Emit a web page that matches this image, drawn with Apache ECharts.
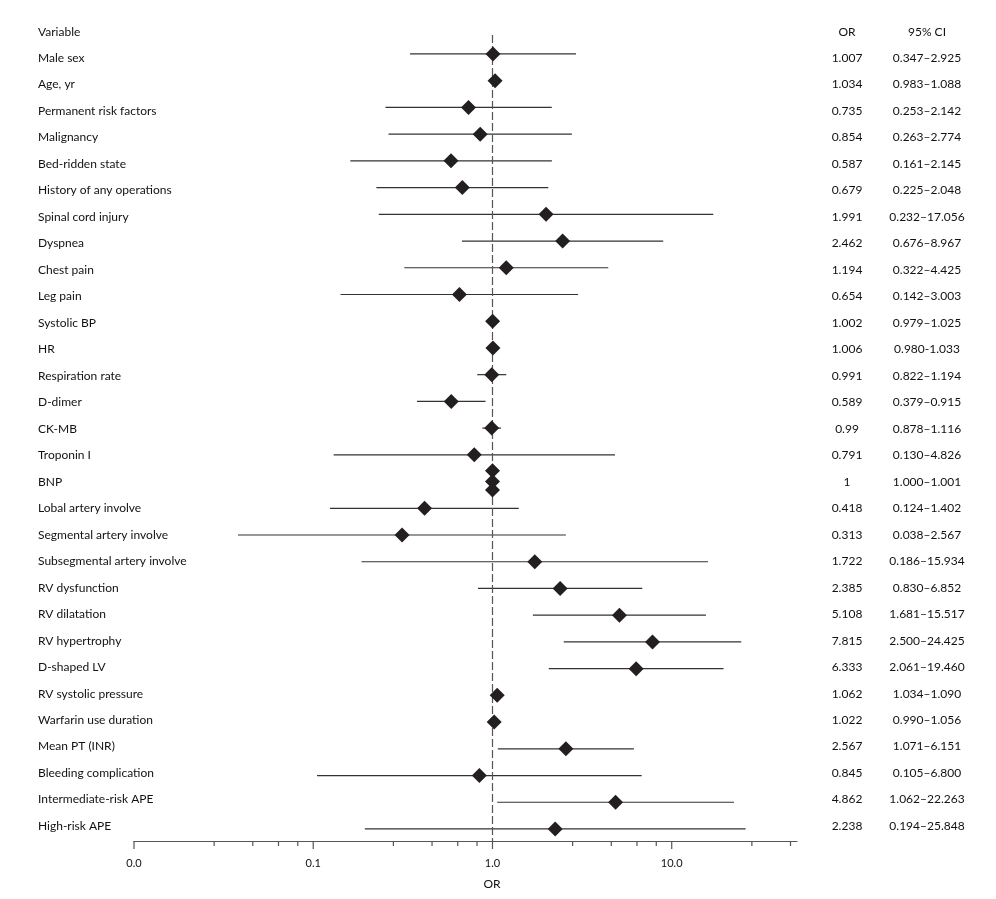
<!DOCTYPE html>
<html>
<head>
<meta charset="utf-8">
<script src="https://cdn.jsdelivr.net/npm/echarts@6/dist/echarts.min.js"></script>
<style>
html,body{margin:0;padding:0;background:#fff;}
#chart{width:996px;height:899px;}
</style>
</head>
<body>
<div id="chart"></div>
<script>
// ---- Data ----
const headerLabels = ['Variable', 'OR', '95% CI'];
const categories = ['Male sex', 'Age, yr', 'Permanent risk factors', 'Malignancy', 'Bed-ridden state',
  'History of any operations', 'Spinal cord injury', 'Dyspnea', 'Chest pain', 'Leg pain',
  'Systolic BP', 'HR', 'Respiration rate', 'D-dimer', 'CK-MB', 'Troponin I', 'BNP',
  'Lobal artery involve', 'Segmental artery involve', 'Subsegmental artery involve',
  'RV dysfunction', 'RV dilatation', 'RV hypertrophy', 'D-shaped LV', 'RV systolic pressure',
  'Warfarin use duration', 'Mean PT (INR)', 'Bleeding complication', 'Intermediate-risk APE', 'High-risk APE'];
const orValues = [1.007, 1.034, 0.735, 0.854, 0.587, 0.679, 1.991, 2.462, 1.194, 0.654,
  1.002, 1.006, 0.991, 0.589, 0.99, 0.791, 1, 0.418, 0.313, 1.722,
  2.385, 5.108, 7.815, 6.333, 1.062, 1.022, 2.567, 0.845, 4.862, 2.238];
const ciLow = [0.347, 0.983, 0.253, 0.263, 0.161, 0.225, 0.232, 0.676, 0.322, 0.142,
  0.979, 0.980, 0.822, 0.379, 0.878, 0.130, 1.000, 0.124, 0.038, 0.186,
  0.830, 1.681, 2.500, 2.061, 1.034, 0.990, 1.071, 0.105, 1.062, 0.194];
const ciHigh = [2.925, 1.088, 2.142, 2.774, 2.145, 2.048, 17.056, 8.967, 4.425, 3.003,
  1.025, 1.033, 1.194, 0.915, 1.116, 4.826, 1.001, 1.402, 2.567, 15.934,
  6.852, 15.517, 24.425, 19.460, 1.090, 1.056, 6.151, 6.800, 22.263, 25.848];
const orText = ['1.007', '1.034', '0.735', '0.854', '0.587', '0.679', '1.991', '2.462', '1.194', '0.654',
  '1.002', '1.006', '0.991', '0.589', '0.99', '0.791', '1', '0.418', '0.313', '1.722',
  '2.385', '5.108', '7.815', '6.333', '1.062', '1.022', '2.567', '0.845', '4.862', '2.238'];
const ciText = ['0.347–2.925', '0.983–1.088', '0.253–2.142', '0.263–2.774', '0.161–2.145',
  '0.225–2.048', '0.232–17.056', '0.676–8.967', '0.322–4.425', '0.142–3.003',
  '0.979–1.025', '0.980-1.033', '0.822–1.194', '0.379–0.915', '0.878–1.116',
  '0.130–4.826', '1.000–1.001', '0.124–1.402', '0.038–2.567', '0.186–15.934',
  '0.830–6.852', '1.681–15.517', '2.500–24.425', '2.061–19.460', '1.034–1.090',
  '0.990–1.056', '1.071–6.151', '0.105–6.800', '1.062–22.263', '0.194–25.848'];
// duplicated BNP marks seen in the figure (row positions, value 1)
const bnpExtraRows = [16.6, 17.32];
const majorTicks = [0.01, 0.1, 1, 10];
const minorTicks = [0.028, 0.046, 0.064, 0.082, 0.28, 0.46, 0.64, 0.82, 2.8, 4.6, 6.4, 8.2, 28, 46];
const axisMin = 0.01, axisMax = 50;

// ---- Chart ----
const chart = echarts.init(document.getElementById('chart'), null, {renderer: 'canvas'});
const FONT = 'Lato';
const TXT = '#111';
const rowIdx = categories.map((_, i) => i + 1);
const yMin = 0.29, yMax = 30.45;

const option = {
  animation: false,
  backgroundColor: '#fff',
  textStyle: {fontFamily: FONT},
  grid: [
    {left: 134, right: 996 - 797, top: 35, bottom: 58},
    {left: 38, right: 196, top: 18.4, height: 820.9}
  ],
  xAxis: [
    {
      type: 'log', logBase: 10, min: axisMin, max: axisMax, gridIndex: 0,
      axisLine: {show: true, lineStyle: {color: '#555', width: 1.2}},
      axisTick: {show: false},
      splitLine: {show: false},
      minorTick: {show: false},
      axisLabel: {
        color: TXT, fontSize: 11, fontFamily: FONT, margin: 17, showMaxLabel: false,
        formatter: v => (v >= axisMax ? '' : Number(v).toFixed(1))
      },
      name: 'OR', nameLocation: 'middle', nameGap: 37,
      nameTextStyle: {color: TXT, fontSize: 12, fontFamily: FONT, padding: [0, 0, 0, 53]}
    },
    {type: 'value', gridIndex: 1, min: 0, max: 1, show: false}
  ],
  yAxis: [
    {type: 'value', gridIndex: 0, min: yMin, max: yMax, inverse: true, show: false},
    {
      type: 'category', gridIndex: 1, inverse: true, position: 'left',
      data: [headerLabels[0]].concat(categories),
      axisLine: {show: false}, axisTick: {show: false},
      axisLabel: {inside: true, margin: 0, align: 'left', color: TXT, fontSize: 12, fontFamily: FONT}
    },
    {
      type: 'category', gridIndex: 1, inverse: true, position: 'right',
      data: [headerLabels[1]].concat(orText),
      axisLine: {show: false}, axisTick: {show: false},
      axisLabel: {margin: 47, align: 'center', color: TXT, fontSize: 12, fontFamily: FONT}
    },
    {
      type: 'category', gridIndex: 1, inverse: true, position: 'right',
      data: [headerLabels[2]].concat(ciText),
      axisLine: {show: false}, axisTick: {show: false},
      axisLabel: {margin: 127, align: 'center', color: TXT, fontSize: 12, fontFamily: FONT}
    }
  ],
  series: [
    {
      type: 'custom', name: 'CI', xAxisIndex: 0, yAxisIndex: 0,
      data: rowIdx.map((r, i) => [ciLow[i], ciHigh[i], r]),
      renderItem: (params, api) => {
        const a = api.coord([api.value(0), api.value(2)]);
        const b = api.coord([api.value(1), api.value(2)]);
        return {type: 'line', shape: {x1: a[0], y1: a[1], x2: b[0], y2: b[1]},
          style: {stroke: '#333', lineWidth: 1.2}};
      },
      z: 2
    },
    {
      type: 'custom', name: 'ticks', xAxisIndex: 0, yAxisIndex: 0, clip: false,
      data: majorTicks.map(v => [v, 1]).concat(minorTicks.map(v => [v, 0])),
      renderItem: (params, api) => {
        const p = api.coord([api.value(0), yMax]);
        const len = api.value(1) ? 8 : 5;
        return {type: 'line', shape: {x1: p[0], y1: p[1], x2: p[0], y2: p[1] + len},
          style: {stroke: '#555', lineWidth: 1.2}};
      }
    },
    {
      type: 'scatter', name: 'OR', xAxisIndex: 0, yAxisIndex: 0,
      symbol: 'diamond', symbolSize: 15,
      itemStyle: {color: '#231f20', opacity: 1},
      data: rowIdx.map((r, i) => [orValues[i], r]),
      z: 5,
      markLine: {
        silent: true, symbol: 'none', animation: false,
        label: {show: false},
        lineStyle: {color: '#555', type: [8, 3], width: 1.2},
        data: [{xAxis: 1}]
      }
    },
    {
      type: 'scatter', name: 'BNP overlap', xAxisIndex: 0, yAxisIndex: 0,
      symbol: 'diamond', symbolSize: 15,
      itemStyle: {color: '#231f20', opacity: 1},
      data: bnpExtraRows.map(r => [orValues[16], r]),
      z: 5
    }
  ]
};
chart.setOption(option);
</script>
</body>
</html>
